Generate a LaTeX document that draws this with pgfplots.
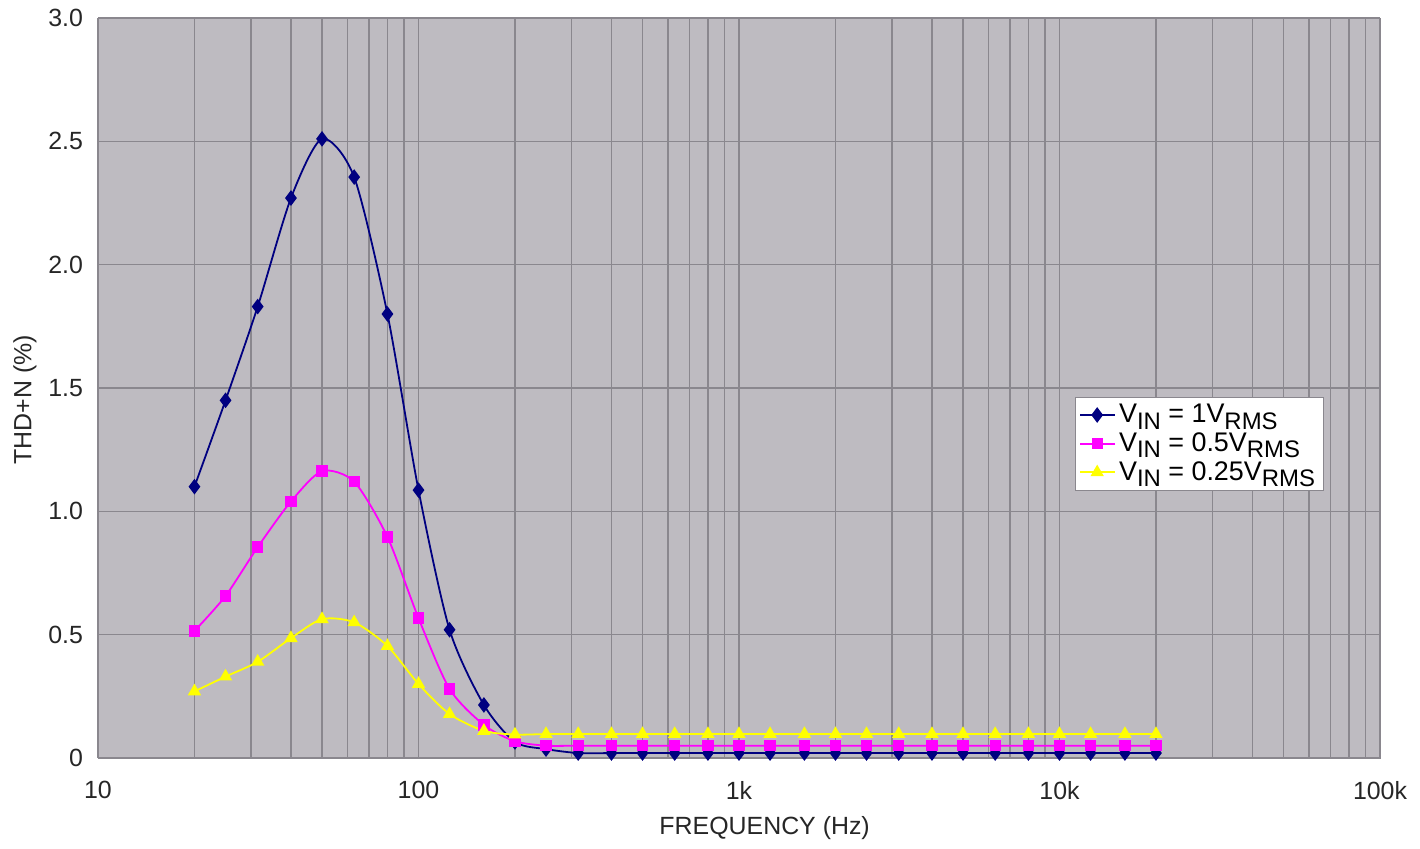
\documentclass[border=0pt]{standalone}
\usepackage{fontspec}
\setmainfont{Liberation Sans}
\usepackage{pgfplots}
\pgfplotsset{compat=1.18}

\definecolor{plotbg}{HTML}{BEBBC1}
\definecolor{gridc}{HTML}{8A878E}
\definecolor{navyc}{HTML}{000080}
\definecolor{pinkc}{HTML}{FF00FF}
\definecolor{yellc}{HTML}{FFFF00}

\newcommand{\sub}[1]{\raisebox{-0.45ex}{\fontsize{12}{13}\selectfont #1}}

\begin{document}
\begin{tikzpicture}[x=1bp,y=1bp]
\begin{axis}[
  name=ax,
  at={(0,0)}, anchor=south west,
  width=641bp, height=370bp, scale only axis,
  xmode=log, log basis x=10,
  xmin=10, xmax=100000, ymin=0, ymax=3,
  axis background/.style={fill=plotbg},
  axis line style={draw=gridc},
  xtick={10,100,1000,10000,100000},
  xticklabels={10,100,1k,10k,100k},
  minor xtick={20,30,40,50,60,70,80,90,200,300,400,500,600,700,800,900,
    2000,3000,4000,5000,6000,7000,8000,9000,20000,30000,40000,50000,60000,70000,80000,90000},
  ytick={0,0.5,1,1.5,2,2.5,3},
  yticklabels={0,0.5,1.0,1.5,2.0,2.5,3.0},
  tick style={draw=none},
  grid=both,
  major grid style={draw=gridc, line width=0.8pt},
  minor grid style={draw=gridc, line width=0.8pt},
  ticklabel style={font=\fontsize{12.5}{14}\selectfont, text=black!85},
  xticklabel style={yshift=-8bp},
  yticklabel style={xshift=-4bp},
  xlabel={FREQUENCY (Hz)},
  ylabel={THD+N (\%)},
  every axis x label/.style={at={(rel axis cs:0.52,0)}, anchor=center, yshift=-35bp,
    font=\fontsize{12.5}{15}\selectfont, text=black!85},
  every axis y label/.style={at={([xshift=-36.5bp]rel axis cs:0,0.484)}, rotate=90, anchor=center,
    font=\fontsize{12.5}{15}\selectfont, text=black!85},
  legend style={at={(rel axis cs:0.762,0.488)}, anchor=north west,
    fill=white, draw=gridc, font=\fontsize{13.5}{15}\selectfont,
    row sep=-0.5bp, inner xsep=2bp, inner ysep=1.5bp},
  legend cell align=left,
  legend image post style={line width=0.9pt},
  every axis plot/.append style={line width=0.9pt, smooth, tension=0.45},
]
\addplot[color=navyc, mark=diamond*, mark size=3.2pt, mark options={solid, fill=navyc}] coordinates {
(20,1.10)(25,1.45)(31.5,1.83)(40,2.27)(50,2.51)(63,2.355)(80,1.80)(100,1.086)
(125,0.52)(160,0.215)(200,0.065)(250,0.036)(315,0.02)(400,0.02)(500,0.02)(630,0.02)
(800,0.02)(1000,0.02)(1250,0.02)(1600,0.02)(2000,0.02)(2500,0.02)(3150,0.02)(4000,0.02)
(5000,0.02)(6300,0.02)(8000,0.02)(10000,0.02)(12500,0.02)(16000,0.02)(20000,0.02)};
\addlegendentry{V\sub{IN} = 1V\sub{RMS}}
\addplot[color=pinkc, mark=square*, mark size=2.4pt, mark options={solid, fill=pinkc}] coordinates {
(20,0.515)(25,0.657)(31.5,0.855)(40,1.04)(50,1.163)(63,1.12)(80,0.896)(100,0.567)
(125,0.28)(160,0.134)(200,0.068)(250,0.05)(315,0.05)(400,0.05)(500,0.05)(630,0.05)
(800,0.05)(1000,0.05)(1250,0.05)(1600,0.05)(2000,0.05)(2500,0.05)(3150,0.05)(4000,0.05)
(5000,0.05)(6300,0.05)(8000,0.05)(10000,0.05)(12500,0.05)(16000,0.05)(20000,0.05)};
\addlegendentry{V\sub{IN} = 0.5V\sub{RMS}}
\addplot[color=yellc, mark=triangle*, mark size=3pt, mark options={solid, fill=yellc}] coordinates {
(20,0.27)(25,0.33)(31.5,0.39)(40,0.486)(50,0.563)(63,0.55)(80,0.454)(100,0.30)
(125,0.178)(160,0.11)(200,0.095)(250,0.097)(315,0.097)(400,0.097)(500,0.097)(630,0.097)
(800,0.097)(1000,0.097)(1250,0.097)(1600,0.097)(2000,0.097)(2500,0.097)(3150,0.097)(4000,0.097)
(5000,0.097)(6300,0.097)(8000,0.097)(10000,0.097)(12500,0.097)(16000,0.097)(20000,0.097)};
\addlegendentry{V\sub{IN} = 0.25V\sub{RMS}}
\end{axis}
\pgfresetboundingbox
\useasboundingbox (ax.south west) ++(-49bp,-45.5bp) rectangle ([xshift=20bp,yshift=9bp]ax.north east);
\end{tikzpicture}
\end{document}
